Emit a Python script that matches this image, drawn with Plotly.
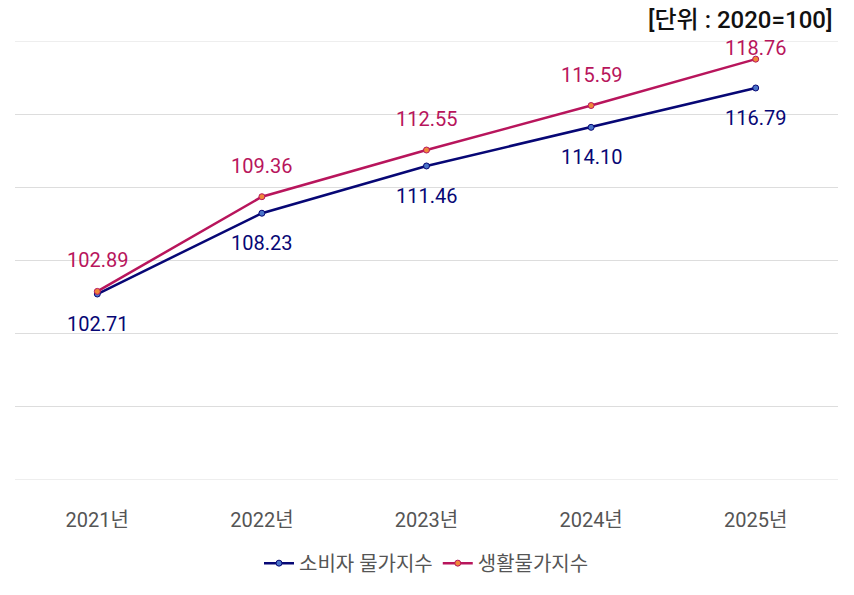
import plotly.graph_objects as go

years = ["2021년", "2022년", "2023년", "2024년", "2025년"]
cpi = [102.71, 108.23, 111.46, 114.10, 116.79]
living = [102.89, 109.36, 112.55, 115.59, 118.76]
names = ["소비자 물가지수", "생활물가지수"]
y_min, y_max = 90, 120

navy = "#070775"
crimson = "#b8155c"
font = "Roboto, Noto Sans CJK KR, sans-serif"

fig = go.Figure()
fig.add_trace(go.Scatter(
    x=years, y=cpi, name=names[0], mode="lines+markers",
    line=dict(color=navy, width=2.5),
    marker=dict(size=6, color="#4a74c9", line=dict(color=navy, width=1)),
))
fig.add_trace(go.Scatter(
    x=years, y=living, name=names[1], mode="lines+markers",
    line=dict(color=crimson, width=2.5),
    marker=dict(size=6, color="#f0873a", line=dict(color=crimson, width=1)),
))

for x, v in zip(years, cpi):
    fig.add_annotation(x=x, y=v, text=f"{v:.2f}", showarrow=False, yshift=-30,
                       font=dict(family=font, size=20, color=navy))
for i, (x, v) in enumerate(zip(years, living)):
    shift = 31 if i < len(years) - 1 else 11
    fig.add_annotation(x=x, y=v, text=f"{v:.2f}", showarrow=False, yshift=shift,
                       font=dict(family=font, size=20, color=crimson))

fig.add_annotation(x=1, y=1, xref="paper", yref="paper", xanchor="right", yanchor="middle",
                   text="[단위 : 2020=100]", showarrow=False, yshift=21, xshift=-4,
                   font=dict(family=font, size=24, color="#111111", weight=500))

for yv in (y_min, y_max):
    fig.add_shape(type="line", xref="paper", x0=0, x1=1, yref="y", y0=yv, y1=yv,
                  line=dict(color="#dddddd", width=1), layer="below")

fig.update_layout(
    width=854, height=595,
    margin=dict(l=15, r=16, t=41, b=115),
    paper_bgcolor="white", plot_bgcolor="white",
    font=dict(family=font),
    showlegend=True,
    legend=dict(orientation="h", x=0.5, xanchor="center", y=-0.145, yanchor="top",
                font=dict(family=font, size=20, color="#555555"), itemwidth=30),
    xaxis=dict(showgrid=False, showline=False, ticks="", range=[-0.5, 4.5],
               ticklabelstandoff=26,
               tickfont=dict(family=font, size=20, color="#555555")),
    yaxis=dict(range=[y_min, y_max], dtick=5, tick0=90, showgrid=True, gridcolor="#dddddd", gridwidth=1,
               showticklabels=False, zeroline=False, showline=False),
)

fig.write_html("out.html")
